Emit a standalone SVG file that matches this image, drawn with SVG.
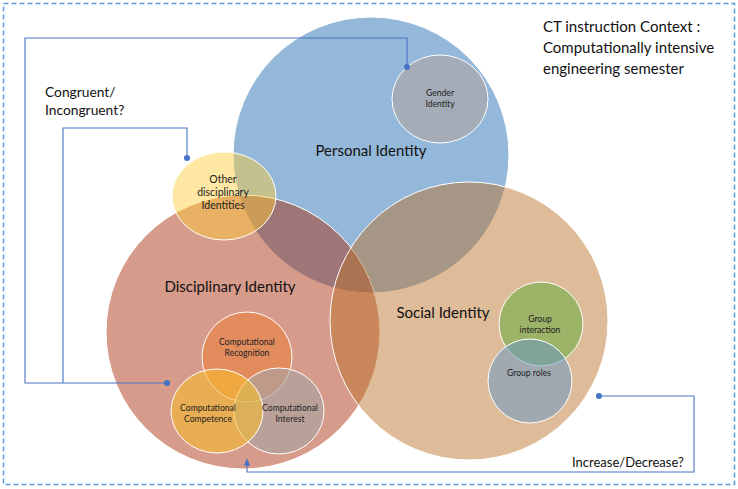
<svg xmlns="http://www.w3.org/2000/svg" width="738" height="489" viewBox="0 0 738 489">
<style>
.big{font-family:Lato,"Open Sans","Liberation Sans",sans-serif;font-size:15px;fill:#111}
.lbl{font-family:Lato,"Open Sans","Liberation Sans",sans-serif;font-size:15px;fill:#111}
.sm{font-family:Lato,"Open Sans","Liberation Sans",sans-serif;font-size:8.6px;fill:#222;text-anchor:middle}
.md{font-family:Lato,"Open Sans","Liberation Sans",sans-serif;font-size:10.5px;fill:#222;text-anchor:middle}
.c{stroke:#fff;stroke-width:1}
.con{fill:none;stroke:#4a72c4;stroke-width:1.1}
.dot{fill:#4472c4}
</style>
<defs>
<marker id="arr" viewBox="0 0 10 10" refX="5" refY="5" markerWidth="7" markerHeight="7" orient="auto">
<path d="M0,1 L10,5 L0,9 z" fill="#4472c4"/>
</marker>
</defs>
<rect x="3.5" y="3.5" width="731" height="481" fill="#fff" stroke="#5b9bd5" stroke-width="1.5" stroke-dasharray="5,3"/>

<g id="personal">
<circle class="c" cx="371" cy="155" r="138" fill="#94b8da"/>
</g>
<g id="gender">
<ellipse class="c" cx="440" cy="99" rx="48" ry="44" fill="#a4adb7"/>
<text class="sm" x="440" y="96">Gender</text>
<text class="sm" x="440" y="106.5">Identity</text>
</g>
<g id="disciplinary">
<circle class="c" cx="243" cy="332" r="137" fill="rgb(170,45,10)" fill-opacity="0.48"/>
</g>
<g id="social">
<circle class="c" cx="469" cy="321" r="139" fill="rgb(187,112,38)" fill-opacity="0.47"/>
</g>
<g id="other">
<ellipse class="c" cx="224" cy="196" rx="52" ry="44" fill="rgb(255,204,51)" fill-opacity="0.45"/>
<text class="md" x="223" y="183">Other</text>
<text class="md" x="223" y="196">disciplinary</text>
<text class="md" x="223" y="209">Identities</text>
</g>
<g id="recognition">
<circle class="c" cx="247" cy="357" r="45" fill="rgb(237,125,49)" fill-opacity="0.5"/>
<text class="sm" x="247" y="345">Computational</text>
<text class="sm" x="247" y="355.5">Recognition</text>
</g>
<g id="interest">
<ellipse class="c" cx="279" cy="411" rx="45" ry="43" fill="rgb(165,165,165)" fill-opacity="0.6"/>
</g>
<g id="competence">
<ellipse class="c" cx="217" cy="411" rx="46" ry="42" fill="rgb(250,190,40)" fill-opacity="0.55"/>
<text class="sm" x="208" y="411">Computational</text>
<text class="sm" x="208" y="421.5">Competence</text>
</g>
<text class="sm" x="290" y="411">Computational</text>
<text class="sm" x="290" y="421.5">Interest</text>
<g id="interaction">
<circle class="c" cx="541" cy="324" r="42" fill="rgb(112,173,71)" fill-opacity="0.6"/>
<text class="sm" x="540" y="322">Group</text>
<text class="sm" x="540" y="332.5">interaction</text>
</g>
<g id="roles">
<circle class="c" cx="530" cy="381" r="42" fill="rgb(100,150,200)" fill-opacity="0.5"/>
<text class="sm" x="529" y="376">Group roles</text>
</g>

<text class="big" x="371" y="156" text-anchor="middle">Personal Identity</text>
<text class="big" x="230" y="292" text-anchor="middle">Disciplinary Identity</text>
<text class="big" x="443" y="318" text-anchor="middle">Social Identity</text>

<g id="connectors">
<polyline class="con" points="407,67 407,38 25,38 25,383 167,383"/>
<polyline class="con" points="187,158 187,128 63,128 63,383"/>
<circle class="dot" cx="407" cy="67" r="3"/>
<circle class="dot" cx="187" cy="158" r="3"/>
<circle class="dot" cx="167" cy="383" r="3"/>
<polyline class="con" points="599,396 694,396 694,472 247,472 247,462" marker-end="url(#arr)"/>
<circle class="dot" cx="599" cy="396" r="3"/>
</g>

<text class="lbl" x="543" y="32">CT instruction Context :</text>
<text class="lbl" x="543" y="53">Computationally intensive</text>
<text class="lbl" x="543" y="74">engineering semester</text>
<text class="lbl" x="45" y="97" style="font-size:13.8px">Congruent/</text>
<text class="lbl" x="45" y="115" style="font-size:13.8px">Incongruent?</text>
<text class="lbl" x="572" y="467" style="font-size:13px">Increase/Decrease?</text>
</svg>
